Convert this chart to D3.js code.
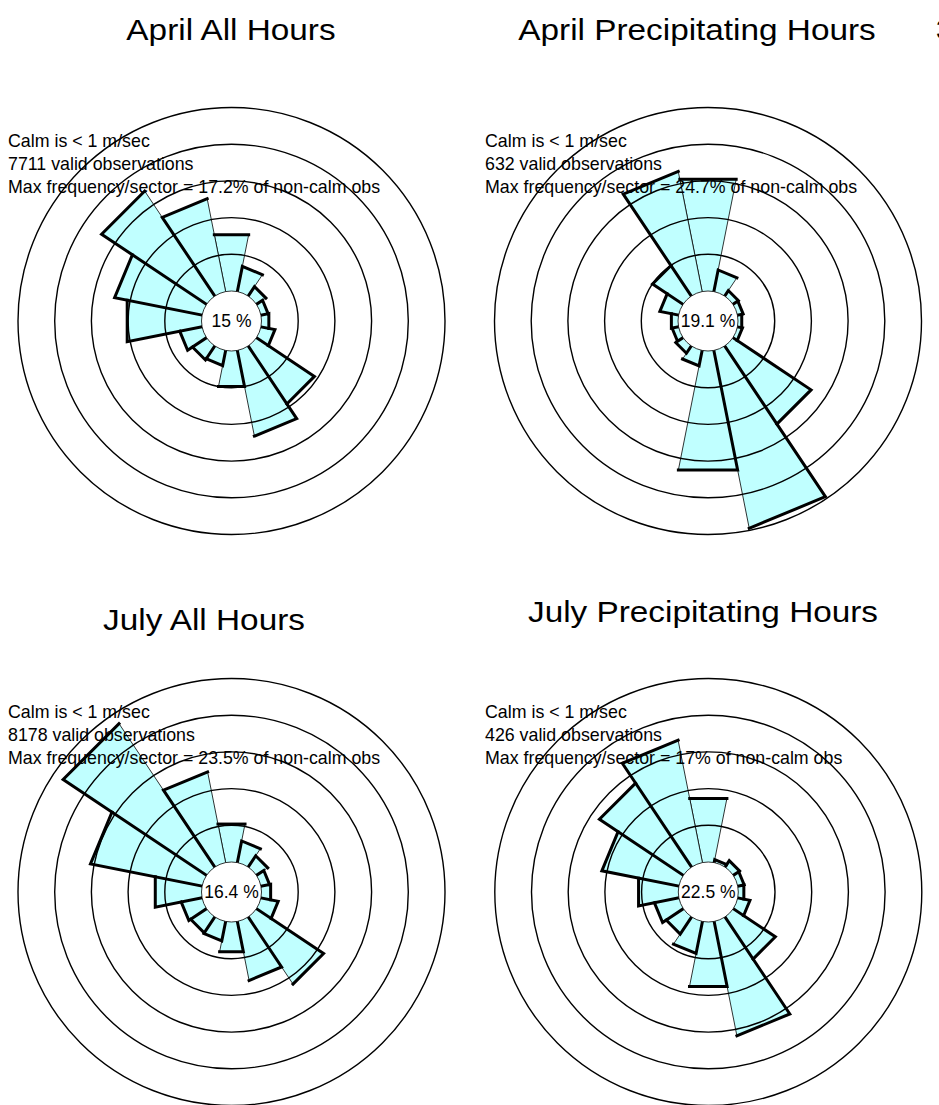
<!DOCTYPE html>
<html>
<head>
<meta charset="utf-8">
<script src="https://cdn.jsdelivr.net/npm/d3@7"></script>
<style>
  html, body { margin: 0; padding: 0; background: #ffffff; }
  svg { display: block; }
  text { font-family: "Liberation Sans", Arial, Helvetica, sans-serif; fill: #000; }
</style>
</head>
<body>
<svg id="chart" width="939" height="1105"></svg>
<script>
// Wind direction sectors, clockwise from north
const directions = ["N", "NNE", "NE", "ENE", "E", "ESE", "SE", "SSE",
                    "S", "SSW", "SW", "WSW", "W", "WNW", "NW", "NNW"];

// Frequency per sector, % of non-calm observations
const aprilAll    = [7.9, 3.5, 1.55, 1.0, 1.1, 1.95, 9.5, 11.9, 5.0, 2.1, 2.3, 3.1, 10.4, 12.15, 17.2, 12.9];
const aprilPrecip = [15.6, 3.0, 0.9, 0.8, 0.6, 0.7, 12.8, 24.7, 16.6, 2.15, 1.2, 0.9, 1.0, 2.6, 5.0, 16.7];
const julyAll     = [5.35, 3.0, 1.85, 1.2, 1.35, 2.4, 11.0, 8.2, 4.2, 2.7, 2.6, 2.9, 6.5, 15.5, 23.5, 12.6];
const julyPrecip  = [8.9, 0.4, 1.05, 0.9, 0.85, 1.7, 6.9, 15.9, 9.05, 4.45, 2.8, 3.4, 5.6, 10.7, 13.75, 17.0];

// Panel titles, calm percentages and observation counts
const titles   = ["April All Hours", "April Precipitating Hours", "July All Hours", "July Precipitating Hours"];
const calmPct  = [15, 19.1, 16.4, 22.5];
const obsCount = [7711, 632, 8178, 426];
const series   = [aprilAll, aprilPrecip, julyAll, julyPrecip];

// Grid ring values (%)
const ringTicks = [5, 10, 15, 20, 25];

// Layout of the four roses
const panels = [
  { cx: 231.5, cy: 321, titleX: 231, titleY: 40,  infoX: 8,   infoY: 146.5 },
  { cx: 708,   cy: 321, titleX: 697, titleY: 40,  infoX: 485, infoY: 146.5 },
  { cx: 231.5, cy: 892, titleX: 204, titleY: 630, infoX: 8,   infoY: 718 },
  { cx: 708.3, cy: 892, titleX: 703, titleY: 622, infoX: 485, infoY: 718 }
];

const calmRadius = 30;
const ringStep = 36.7;
const fillColor = "#c0ffff";

const r = d3.scaleLinear().domain([0, 5]).range([calmRadius, calmRadius + ringStep]);
const sectorWidth = 2 * Math.PI / directions.length;
const angle = d3.scaleLinear().domain([0, directions.length]).range([0, 2 * Math.PI]);

const svg = d3.select("#chart");

function drawRose(p, values, i) {
  const g = svg.append("g").attr("transform", `translate(${p.cx},${p.cy})`);

  const sectors = values.map((v, k) => {
    const a0 = angle(k) - sectorWidth / 2;
    const a1 = angle(k) + sectorWidth / 2;
    const rr = r(v);
    return {
      k, v,
      inner0: d3.pointRadial(a0, calmRadius),
      outer0: d3.pointRadial(a0, rr),
      outer1: d3.pointRadial(a1, rr),
      center: [0, 0]
    };
  });

  // Filled sectors with thin outline
  g.append("g").selectAll("path")
    .data(sectors)
    .join("path")
    .attr("d", s => d3.line()([s.center, s.outer0, s.outer1, s.center]) + "Z")
    .attr("fill", fillColor)
    .attr("stroke", "#000")
    .attr("stroke-width", 0.8)
    .attr("stroke-linejoin", "miter");

  // Grid rings
  g.append("g").selectAll("circle")
    .data(ringTicks)
    .join("circle")
    .attr("r", d => r(d))
    .attr("fill", "none")
    .attr("stroke", "#000")
    .attr("stroke-width", 1.4);

  // Heavy edge: leading radial side and outer end of each sector
  g.append("g").selectAll("path")
    .data(sectors)
    .join("path")
    .attr("d", s => s.k === 0
      ? d3.line()([s.outer0, s.outer1])
      : d3.line()([s.inner0, s.outer0, s.outer1]))
    .attr("fill", "none")
    .attr("stroke", "#000")
    .attr("stroke-width", 3)
    .attr("stroke-linejoin", "miter")
    .attr("stroke-linecap", "square");

  // Calm circle
  g.append("circle")
    .attr("r", calmRadius)
    .attr("fill", "#fff")
    .attr("stroke", "#000")
    .attr("stroke-width", 0.8);

  g.append("text")
    .attr("x", 0)
    .attr("y", 6)
    .attr("text-anchor", "middle")
    .attr("font-size", 17.5)
    .text(`${calmPct[i]} %`);

  // Title (slightly widened lettering)
  svg.append("text")
    .attr("transform", `translate(${p.titleX},${p.titleY}) scale(1.1,1)`)
    .attr("text-anchor", "middle")
    .attr("font-size", 30.3)
    .text(titles[i]);

  // Summary lines
  const info = [
    "Calm is < 1 m/sec",
    `${obsCount[i]} valid observations`,
    `Max frequency/sector = ${d3.max(values)}% of non-calm obs`
  ];
  svg.append("g").selectAll("text")
    .data(info)
    .join("text")
    .attr("x", p.infoX)
    .attr("y", (d, j) => p.infoY + j * 23)
    .attr("font-size", 17.8)
    .text(d => d);
}

panels.forEach((p, i) => drawRose(p, series[i], i));

// Edge of a further label clipped by the page border
svg.append("text")
  .attr("x", 936)
  .attr("y", 39)
  .attr("font-size", 27)
  .text("3");
</script>
</body>
</html>
